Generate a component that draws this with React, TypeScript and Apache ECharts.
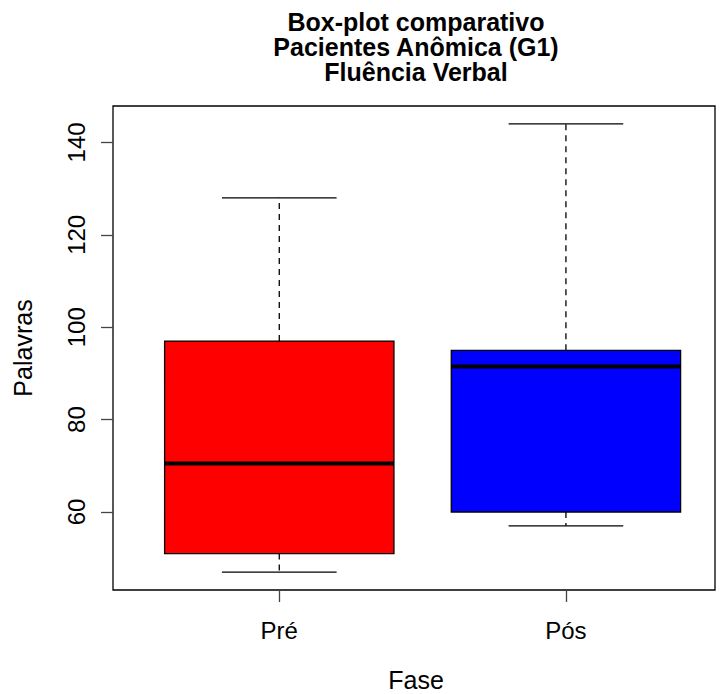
import React, { useEffect, useRef } from "react";
import * as echarts from "echarts";

const categories = ["Pré", "Pós"];
const positions = [1, 2];
const lowerWhisker = [47, 57];
const lowerQuartile = [51, 60];
const medians = [70.5, 91.5];
const upperQuartile = [97, 95];
const upperWhisker = [128, 144];
const boxColors = ["#FF0000", "#0000FF"];
const yTicks = [60, 80, 100, 120, 140];
const titleLines = ["Box-plot comparativo", "Pacientes Anômica (G1)", "Fluência Verbal"];
const xAxisTitle = "Fase";
const yAxisTitle = "Palavras";

const FONT = "'Liberation Sans', Arial, Helvetica, sans-serif";

export default function App() {
  const ref = useRef<HTMLDivElement>(null);
  useEffect(() => {
    document.body.style.margin = "0";
    if (!ref.current) return;
    const chart = echarts.init(ref.current, null, { renderer: "svg" });
    const data = positions.map((p, i) => [
      p,
      lowerWhisker[i],
      lowerQuartile[i],
      medians[i],
      upperQuartile[i],
      upperWhisker[i],
    ]);
    const plotLeft = 113;
    const plotWidth = 602;
    const plotTop = 106;
    const plotHeight = 484;
    const titleX = 416;
    chart.setOption({
      animation: false,
      backgroundColor: "#fff",
      grid: {
        left: plotLeft,
        top: plotTop,
        width: plotWidth,
        height: plotHeight,
        show: true,
        borderColor: "#000",
        borderWidth: 1.3,
        backgroundColor: "transparent",
      },
      xAxis: {
        type: "value",
        min: 0.42,
        max: 2.52,
        splitLine: { show: false },
        axisLine: { show: false },
        axisTick: {
          show: true,
          length: 12,
          customValues: positions,
          lineStyle: { color: "#444", width: 1.3 },
        },
        axisLabel: {
          show: true,
          customValues: positions,
          margin: 28,
          fontSize: 24,
          fontFamily: FONT,
          color: "#000",
          formatter: (v: number) => categories[positions.indexOf(Math.round(v))] ?? "",
        },
      },
      yAxis: {
        type: "value",
        min: 43.12,
        max: 147.88,
        splitLine: { show: false },
        axisLine: { show: false },
        axisTick: {
          show: true,
          length: 12,
          customValues: yTicks,
          lineStyle: { color: "#444", width: 1.3 },
        },
        axisLabel: {
          show: true,
          customValues: yTicks,
          rotate: 90,
          margin: 25,
          fontSize: 24,
          fontFamily: FONT,
          color: "#000",
        },
      },
      graphic: [
        {
          type: "text",
          x: titleX,
          y: 46.7,
          style: {
            text: titleLines.join("\n"),
            fontSize: 25,
            lineHeight: 25,
            fontWeight: "bold",
            fontFamily: FONT,
            fill: "#000",
            textAlign: "center",
            textVerticalAlign: "middle",
          },
        },
        {
          type: "text",
          x: titleX,
          y: 680,
          style: {
            text: xAxisTitle,
            fontSize: 25,
            fontFamily: FONT,
            fill: "#000",
            textAlign: "center",
            textVerticalAlign: "middle",
          },
        },
        {
          type: "text",
          x: 23,
          y: 348,
          rotation: Math.PI / 2,
          style: {
            text: yAxisTitle,
            fontSize: 25,
            fontFamily: FONT,
            fill: "#000",
            textAlign: "center",
            textVerticalAlign: "middle",
          },
        },
      ],
      series: [
        {
          type: "custom",
          data,
          clip: false,
          renderItem: (params: any, api: any) => {
            const x = api.value(0);
            const lo = api.coord([x, api.value(1)]);
            const q1 = api.coord([x, api.value(2)]);
            const md = api.coord([x, api.value(3)]);
            const q3 = api.coord([x, api.value(4)]);
            const hi = api.coord([x, api.value(5)]);
            const cx = lo[0];
            const halfBox = api.size([0.4, 0])[0];
            const halfCap = api.size([0.2, 0])[0];
            const color = boxColors[params.dataIndex];
            const dashStyle = { stroke: "#000", lineWidth: 1.3, lineDash: [6, 5] };
            const solid = { stroke: "#000", lineWidth: 1.3 };
            return {
              type: "group",
              children: [
                { type: "line", shape: { x1: cx, y1: q3[1], x2: cx, y2: hi[1] }, style: dashStyle },
                { type: "line", shape: { x1: cx, y1: q1[1], x2: cx, y2: lo[1] }, style: dashStyle },
                { type: "line", shape: { x1: cx - halfCap, y1: hi[1], x2: cx + halfCap, y2: hi[1] }, style: solid },
                { type: "line", shape: { x1: cx - halfCap, y1: lo[1], x2: cx + halfCap, y2: lo[1] }, style: solid },
                {
                  type: "rect",
                  shape: { x: cx - halfBox, y: q3[1], width: 2 * halfBox, height: q1[1] - q3[1] },
                  style: { fill: color, stroke: "#000", lineWidth: 1.3 },
                },
                {
                  type: "line",
                  shape: { x1: cx - halfBox, y1: md[1], x2: cx + halfBox, y2: md[1] },
                  style: { stroke: "#000", lineWidth: 4 },
                },
              ],
            };
          },
        },
      ],
    });
    return () => chart.dispose();
  }, []);
  return <div ref={ref} style={{ width: 723, height: 694 }} />;
}
